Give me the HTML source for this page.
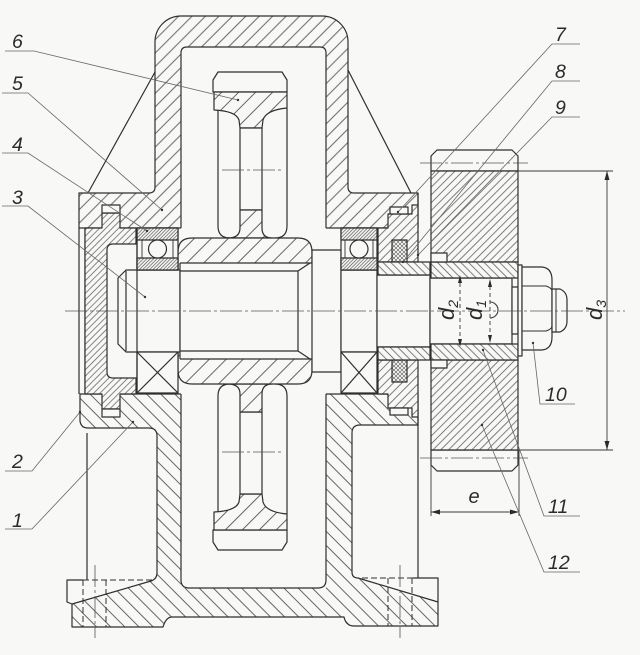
<!DOCTYPE html>
<html><head><meta charset="utf-8"><style>
html,body{margin:0;padding:0;background:#f8f8f6;}
svg{display:block}
text{font-family:"Liberation Sans",sans-serif;font-style:italic;fill:#2b2b2b}
</style></head><body>
<svg width="640" height="655" viewBox="0 0 640 655" xmlns="http://www.w3.org/2000/svg">
<defs>
<pattern id="h5" patternUnits="userSpaceOnUse" width="9.5" height="10" patternTransform="rotate(45)"><rect width="9.5" height="10" fill="#f8f8f6"/><line x1="4.75" y1="0" x2="4.75" y2="10" stroke="#555" stroke-width="0.9"/></pattern>
<pattern id="h1" patternUnits="userSpaceOnUse" width="10" height="10" patternTransform="rotate(-45)"><rect width="10" height="10" fill="#f8f8f6"/><line x1="5" y1="0" x2="5" y2="10" stroke="#555" stroke-width="0.9"/></pattern>
<pattern id="hg" patternUnits="userSpaceOnUse" width="12" height="10" patternTransform="rotate(45)"><rect width="12" height="10" fill="#f8f8f6"/><line x1="6" y1="0" x2="6" y2="10" stroke="#555" stroke-width="0.9"/></pattern>
<pattern id="hp" patternUnits="userSpaceOnUse" width="5.5" height="10" patternTransform="rotate(45)"><rect width="5.5" height="10" fill="#f8f8f6"/><line x1="2.75" y1="0" x2="2.75" y2="10" stroke="#555" stroke-width="0.75"/></pattern>
<pattern id="hc" patternUnits="userSpaceOnUse" width="4.5" height="10" patternTransform="rotate(45)"><rect width="4.5" height="10" fill="#f8f8f6"/><line x1="2.25" y1="0" x2="2.25" y2="10" stroke="#555" stroke-width="0.7"/></pattern>
<pattern id="hs" patternUnits="userSpaceOnUse" width="5.5" height="10" patternTransform="rotate(-45)"><rect width="5.5" height="10" fill="#f8f8f6"/><line x1="2.75" y1="0" x2="2.75" y2="10" stroke="#555" stroke-width="0.75"/></pattern>
<pattern id="hk" patternUnits="userSpaceOnUse" width="6" height="10" patternTransform="rotate(45)"><rect width="6" height="10" fill="#f8f8f6"/><line x1="3" y1="0" x2="3" y2="10" stroke="#555" stroke-width="0.75"/></pattern>
<pattern id="hb" patternUnits="userSpaceOnUse" width="2.4" height="10" patternTransform="rotate(45)"><rect width="2.4" height="10" fill="#f8f8f6"/><line x1="1.2" y1="0" x2="1.2" y2="10" stroke="#555" stroke-width="0.7"/></pattern>
<pattern id="hx" patternUnits="userSpaceOnUse" width="4" height="4"><rect width="4" height="4" fill="#f8f8f6"/><path d="M0,0 L4,4 M4,0 L0,4" stroke="#555" stroke-width="0.6"/></pattern>
</defs>

<rect width="640" height="655" fill="#f8f8f6"/>

<g stroke="#2f2f2f" stroke-width="1.2" fill="none" stroke-linejoin="round">

<!-- upper housing (part 5) -->
<path d="M79,193 L149,193 Q155,193 155,187 L155,42 A26,26 0 0 1 181,16 L322,16 A26,26 0 0 1 348,42 L348,187 Q348,193 354,193 L418,193 L418,228 L79,228 Z" fill="url(#h5)"/>
<!-- ribs -->
<path d="M88,193 L155,72 M348,70 L411,193"/>

<!-- lower housing (part 1) -->
<path d="M80,394 L418,394 L418,425 L360,425 Q352,425 352,433 L352,572 Q352,578 358,578 L438,602 L438,626 L354,626 Q346,626 344,617 L172,617 Q166,617 163,627 L72,627 L72,604 L151,581 Q157,579 157,573 L157,436 Q157,428 149,428 L88,428 Q81,428 80,421 Z" fill="url(#h1)"/>

<!-- cavity -->
<rect x="181" y="47" width="145" height="541" fill="#f8f8f6" stroke="none"/>
<path d="M181,228 L181,53 Q181,47 187,47 L320,47 Q326,47 326,53 L326,228"/>
<path d="M181,394 L181,580 Q181,588 189,588 L318,588 Q326,588 326,580 L326,394"/>

<!-- legs / feet -->
<path d="M87,433 L87,580"/>
<path d="M83,580 L67,580 L67,602 L72,604"/>
<path d="M418,425 L418,578"/>
<path d="M413,578 L438,578 L438,602"/>
<g stroke-dasharray="6 3" stroke-width="1">
<path d="M83,580 L83,627 M106,580 L106,627 M83,580 L152,580"/>
<path d="M388,578 L388,626 M412,578 L412,626 M362,578 L413,578"/>
</g>

<!-- gear 6 top -->
<path d="M213,80 L218,72 L282,72 L287,80 L287,92 L213,92 Z" fill="#f8f8f6"/>
<path d="M214,92 L287,92 L287,108 Q266,110 263,120 L262,128 L240,128 L239,120 Q236,111 214,110 Z" fill="url(#hg)"/>
<rect x="240" y="128" width="22" height="82" fill="#f8f8f6"/>
<path d="M240,210 L262,210 L262,228 Q262,238 272,238 L228,238 Q240,238 240,228 Z" fill="url(#hg)"/>
<path d="M218,110 L218,226 Q218,238 230,238 M287,108 L287,226 Q287,238 275,238"/>
<!-- gear 6 bottom -->
<path d="M213,542 L218,550 L282,550 L287,542 L287,530 L213,530 Z" fill="#f8f8f6"/>
<path d="M214,530 L287,530 L287,514 Q266,512 263,502 L262,494 L240,494 L239,502 Q236,511 214,512 Z" fill="url(#hg)"/>
<rect x="240" y="412" width="22" height="82" fill="#f8f8f6"/>
<path d="M240,412 L262,412 L262,394 Q262,384 272,384 L228,384 Q240,384 240,394 Z" fill="url(#hg)"/>
<path d="M218,512 L218,396 Q218,384 230,384 M287,514 L287,396 Q287,384 275,384"/>

<!-- hub -->
<path d="M178,252 Q178,238 192,238 L298,238 Q312,238 312,252 L312,370 Q312,384 298,384 L192,384 Q178,384 178,370 Z" fill="url(#hg)"/>

<!-- shaft 3 -->
<path d="M126,270 L180,270 L180,352 L126,352 L118,344 L118,278 Z" fill="#f8f8f6"/>
<path d="M126,271 L126,351"/>
<rect x="180" y="263" width="132" height="96" fill="#f8f8f6" stroke="none"/>
<path d="M180,263 L312,263 M180,359 L312,359 M180,271 L298,271 L310,263 M180,351 L298,351 L310,359 M298,271 L298,351 M180,263 L180,359"/>
<rect x="312" y="250" width="29" height="122" fill="#f8f8f6"/>
<rect x="341" y="270" width="36" height="82" fill="#f8f8f6"/>
<rect x="377" y="275" width="53" height="72" fill="#f8f8f6"/>
<rect x="430" y="278" width="82" height="66" fill="#f8f8f6"/>
<rect x="512" y="287" width="6" height="47" fill="#f8f8f6"/>

<!-- left bearings -->
<rect x="137" y="228" width="41" height="42" fill="#f8f8f6"/>
<rect x="137" y="228" width="41" height="12" fill="url(#hb)"/>
<rect x="137" y="258" width="41" height="12" fill="url(#hb)"/>
<path d="M142,240 L142,258 M173,240 L173,258" stroke-width="0.9"/>
<circle cx="157.5" cy="249" r="9" fill="#f8f8f6"/>
<rect x="137" y="352" width="41" height="41" fill="#f8f8f6"/>
<path d="M137,352 L178,393 M178,352 L137,393"/>
<!-- right bearings -->
<rect x="341" y="228" width="36" height="42" fill="#f8f8f6"/>
<rect x="341" y="228" width="36" height="12" fill="url(#hb)"/>
<rect x="341" y="258" width="36" height="12" fill="url(#hb)"/>
<path d="M345,240 L345,258 M373,240 L373,258" stroke-width="0.9"/>
<circle cx="359" cy="249" r="9" fill="#f8f8f6"/>
<rect x="341" y="352" width="36" height="41" fill="#f8f8f6"/>
<path d="M341,352 L377,393 M377,352 L341,393"/>

<!-- cover 2 -->
<path d="M79,228 L79,394 M85,228 L85,394"/>
<path d="M85,228 L102,228 L102,213 L120,213 L120,228 L136,228 L136,244 L113,244 Q107,244 107,250 L107,372 Q107,378 113,378 L136,378 L136,394 L120,394 L120,409 L102,409 L102,394 L85,394 Z" fill="url(#hc)"/>
<rect x="102" y="205" width="18" height="8" fill="#f8f8f6"/>
<rect x="102" y="409" width="18" height="8" fill="#f8f8f6"/>
<path d="M137,228 L137,393"/>

<!-- cover 7 -->
<path d="M378,262 L378,228 L388,228 L388,214 L412,214 L412,205 L418,205 L418,262 Z" fill="url(#hk)"/>
<rect x="390" y="207" width="18" height="7" fill="#f8f8f6"/>
<rect x="392" y="240" width="15" height="22" fill="url(#hx)"/>
<path d="M378,360 L378,394 L388,394 L388,408 L412,408 L412,417 L418,417 L418,360 Z" fill="url(#hk)"/>
<rect x="390" y="408" width="18" height="7" fill="#f8f8f6"/>
<rect x="392" y="360" width="15" height="22" fill="url(#hx)"/>
<path d="M418,193 L418,205 M418,417 L418,425"/>

<!-- spacer -->
<rect x="378" y="262" width="52" height="13" fill="url(#hs)"/>
<rect x="378" y="347" width="52" height="13" fill="url(#hs)"/>

<!-- pulley 12 -->
<path d="M431,171 L431,156 L437,150 L512,150 L518,156 L518,171 Z" fill="#f8f8f6"/>
<rect x="431" y="171" width="87" height="91" fill="url(#hp)"/>
<path d="M431,450 L431,465 L437,471 L512,471 L518,465 L518,450 Z" fill="#f8f8f6"/>
<rect x="431" y="360" width="87" height="90" fill="url(#hp)"/>

<!-- sleeve 11 -->
<rect x="431" y="262" width="87" height="16" fill="url(#hs)"/>
<rect x="431" y="344" width="87" height="16" fill="url(#hs)"/>
<rect x="431" y="253" width="16" height="9" fill="#f8f8f6"/>
<rect x="431" y="360" width="16" height="8" fill="#f8f8f6"/>

<!-- washer, nut, bolt -->
<rect x="518" y="265" width="4" height="91" fill="#f8f8f6"/>
<path d="M522,267 L542,267 Q552,268 552,280 L552,337 Q552,349 542,350 L522,350 Z" fill="#f8f8f6"/>
<path d="M522,286 L546,286 Q552,288 552,291 M522,331 L546,331 Q552,329 552,326" stroke-width="1"/>
<path d="M552,289 L560,289 Q567,292 567,300 L567,321 Q567,329 560,332 L552,332 Z" fill="#f8f8f6"/>
<path d="M556,289 L556,332" stroke-width="1"/>
</g>

<!-- centerlines -->
<g stroke="#555" stroke-width="0.8" fill="none" stroke-dasharray="22 3 3 3">
<path d="M65,311 L625,311"/>
<path d="M222,170 L281,170 M222,452 L281,452"/>
<path d="M420,163 L528,163 M420,458 L528,458"/>
<path d="M95,565 L95,638 M400,565 L400,638"/>
</g>

<!-- dimensions -->
<g stroke="#3a3a3a" stroke-width="0.9" fill="none">
<path d="M518,171 L613,171 M518,450 L613,450 M607,171 L607,450"/>
<path d="M431,462 L431,516 M519,450 L519,516 M431,512 L519,512"/>
<path d="M460,283 L460,340 M490,286 L490,337" stroke-dasharray="4 3"/>
<path d="M490,302 A8,8 0 0 1 490,318" stroke-width="1.1"/>
</g>
<g fill="#2b2b2b">
<polygon points="607,171 604.5,180 609.5,180"/>
<polygon points="607,450 604.5,441 609.5,441"/>
<polygon points="431,512 440,509.5 440,514.5"/>
<polygon points="519,512 510,509.5 510,514.5"/>
<polygon points="460,275 458,283 462,283"/>
<polygon points="460,347 458,339 462,339"/>
<polygon points="490,279 488,287 492,287"/>
<polygon points="490,343 488,335 492,335"/>
</g>

<!-- leaders -->
<g stroke="#666" stroke-width="0.8" fill="none">
<path d="M5,51 L34,51 L238,100"/>
<path d="M2,93 L28,93 L162,210"/>
<path d="M2,153 L28,153 L147,231"/>
<path d="M2,206 L28,206 L145,297"/>
<path d="M5,471 L32,471 L80,412"/>
<path d="M5,529 L32,529 L133,422"/>
<path d="M580,44 L552,44 L398,212"/>
<path d="M580,81 L552,81 L403,262"/>
<path d="M580,117 L552,117 L418,255"/>
<path d="M575,404 L540,404 L533,343"/>
<path d="M580,516 L544,516 L483,350"/>
<path d="M580,572 L544,572 L482,425"/>
</g>
<g fill="#333">
<circle cx="238" cy="100" r="1.2"/><circle cx="162" cy="210" r="1.2"/><circle cx="147" cy="231" r="1.2"/><circle cx="145" cy="297" r="1.2"/>
<circle cx="80" cy="412" r="1.2"/><circle cx="133" cy="422" r="1.2"/><circle cx="398" cy="212" r="1.2"/><circle cx="403" cy="262" r="1.2"/>
<circle cx="418" cy="255" r="1.2"/><circle cx="533" cy="343" r="1.2"/><circle cx="483" cy="350" r="1.2"/><circle cx="482" cy="425" r="1.2"/>
</g>

<!-- labels -->
<g font-size="19.5">
<text x="12" y="48">6</text>
<text x="12" y="90">5</text>
<text x="12" y="151">4</text>
<text x="12" y="204">3</text>
<text x="12" y="468">2</text>
<text x="12" y="527">1</text>
<text x="555" y="41">7</text>
<text x="555" y="78">8</text>
<text x="555" y="114">9</text>
<text x="545" y="401">10</text>
<text x="548" y="513">11</text>
<text x="548" y="569">12</text>
</g>
<text x="474" y="503" font-size="20" text-anchor="middle">e</text>
<text x="454" y="310" font-size="22" text-anchor="middle" transform="rotate(-90 454 310)">d<tspan font-size="14" dy="4">2</tspan></text>
<text x="482" y="310" font-size="22" text-anchor="middle" transform="rotate(-90 482 310)">d<tspan font-size="14" dy="4">1</tspan></text>
<text x="602" y="310" font-size="22" text-anchor="middle" transform="rotate(-90 602 310)">d<tspan font-size="14" dy="4">3</tspan></text>
</svg>
</body></html>
